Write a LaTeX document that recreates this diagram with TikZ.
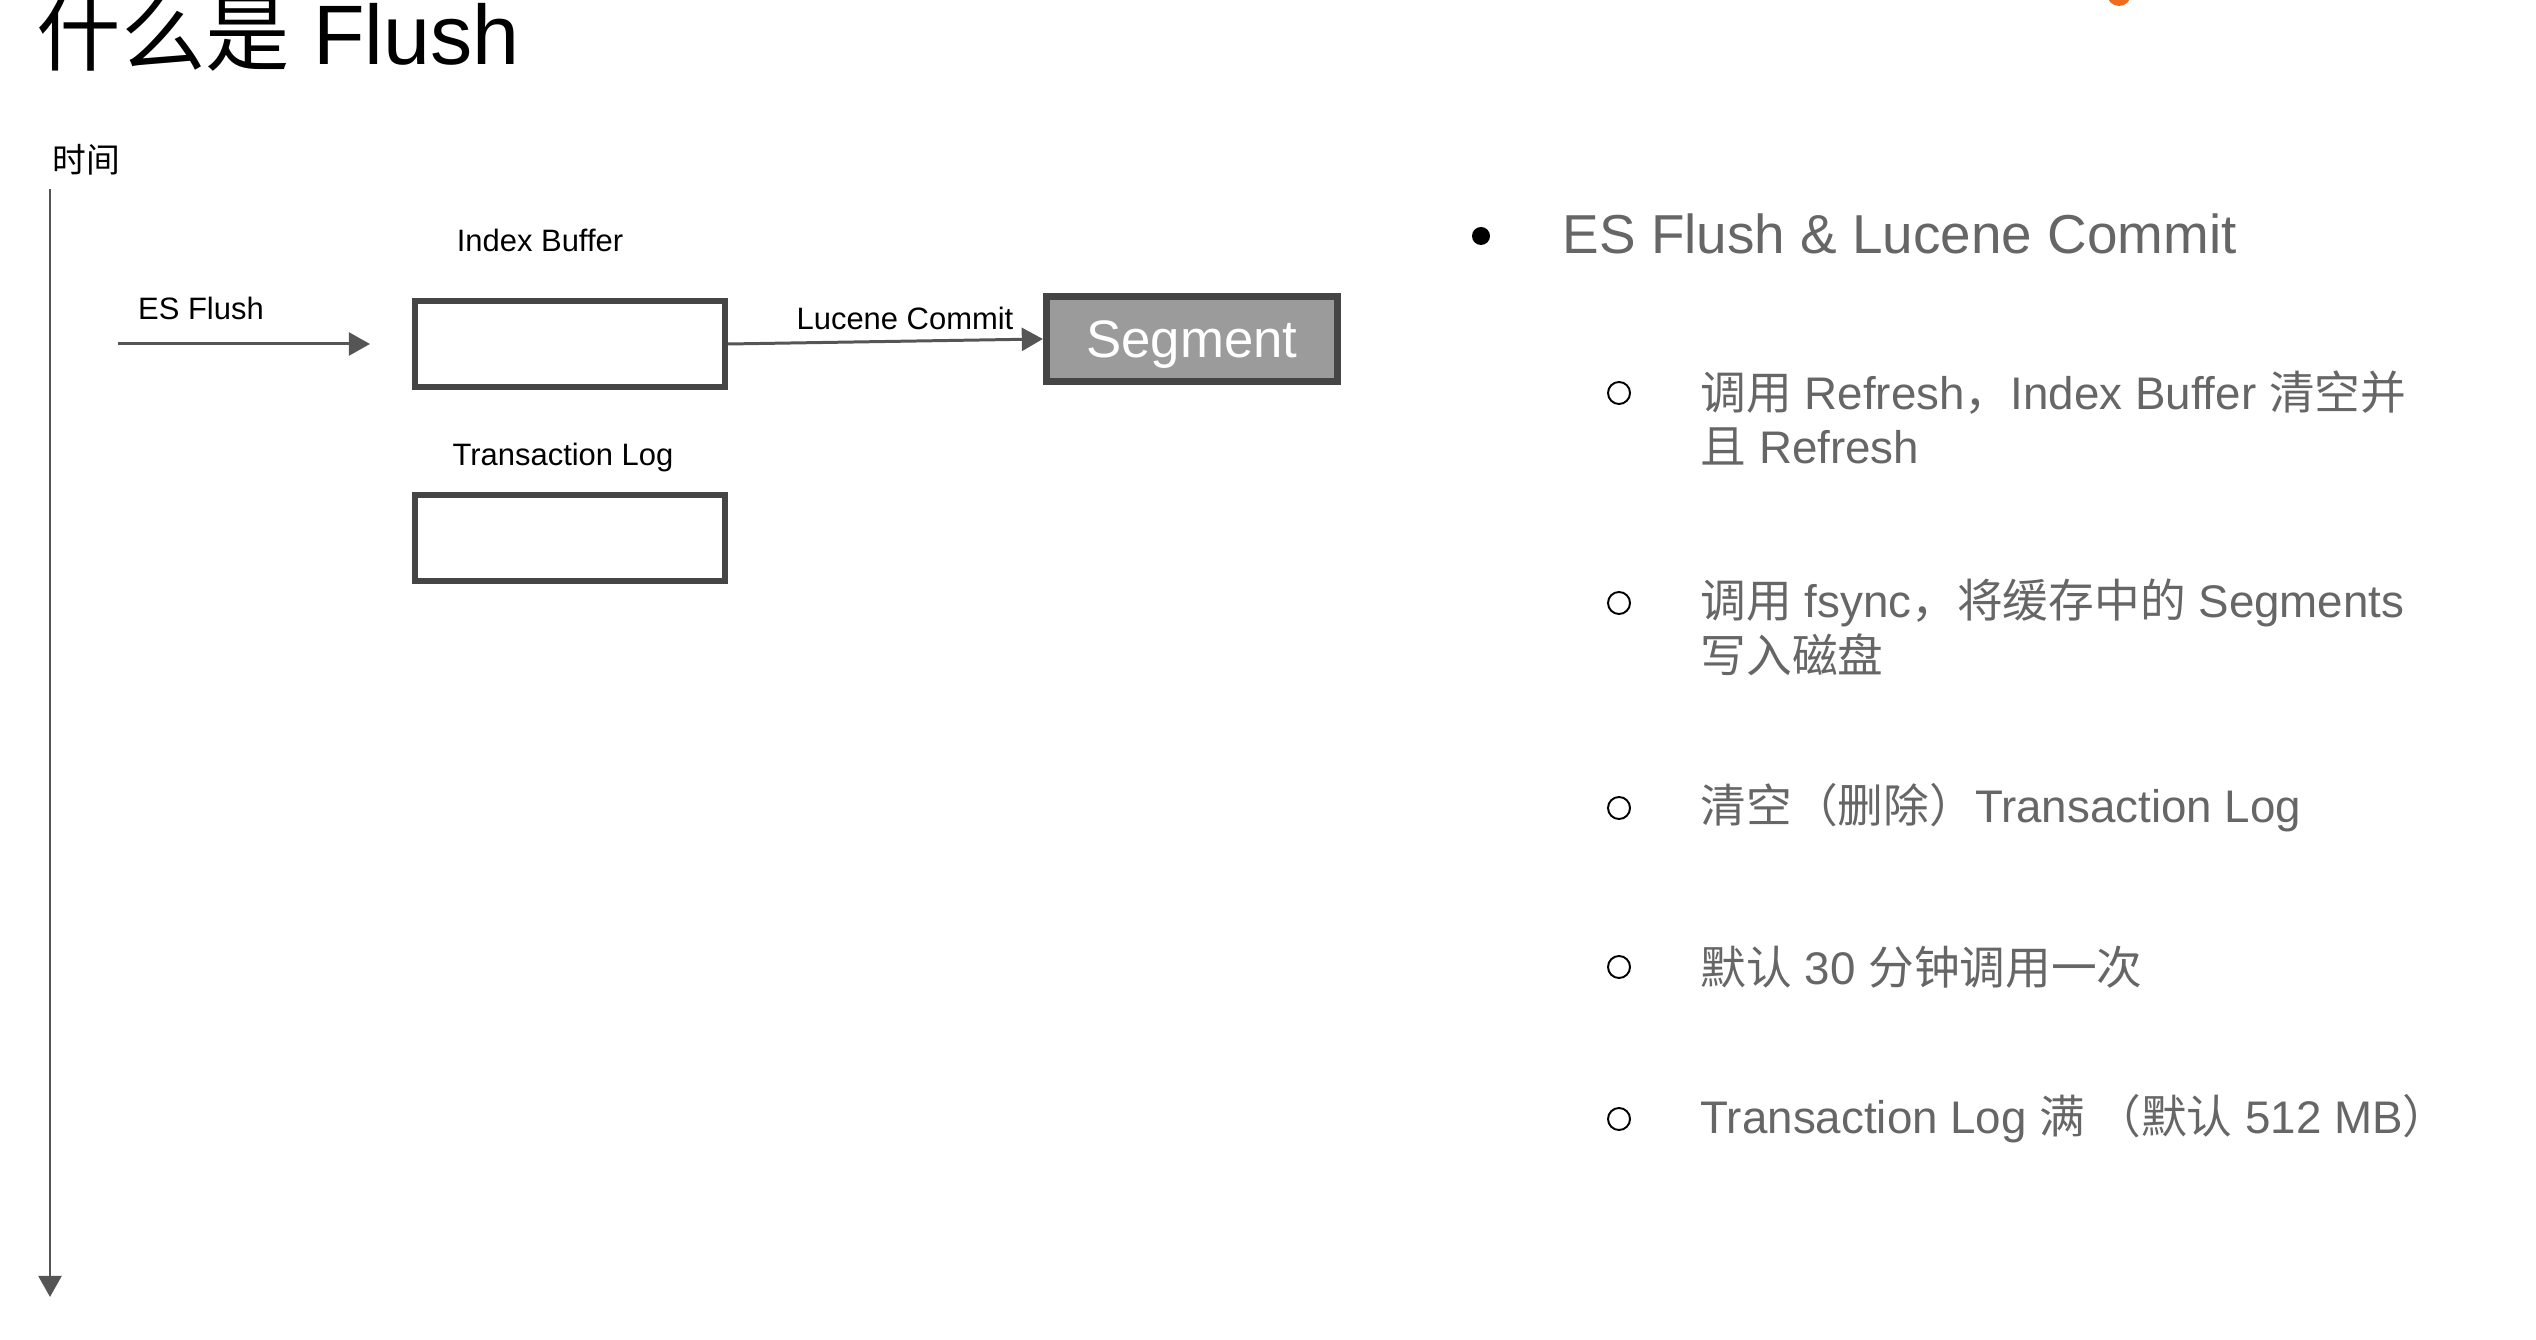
\documentclass[tikz,border=0pt]{standalone}
\usepackage{fontspec}
\setmainfont{Liberation Sans}
\newfontfamily\cjk{Noto Sans CJK SC}
\newcommand\zh[1]{{\cjk #1}}
\usetikzlibrary{arrows.meta}
\definecolor{boxgray}{HTML}{454545}
\definecolor{linegray}{HTML}{555555}
\definecolor{seggray}{HTML}{9B9B9B}
\definecolor{txtgray}{HTML}{666666}
\definecolor{logoorange}{HTML}{F26B1D}

\begin{document}
\begin{tikzpicture}[x=0.01cm,y=-0.01cm,>={Triangle[length=6pt,width=6.5pt]}]
    \tikzstyle{box}=[draw=boxgray,line width=1.7pt,minimum width=3.1cm,minimum height=0.86cm,inner sep=0pt]
    \tikzstyle{lbl}=[font=\fontsize{8.8}{10}\selectfont,inner sep=0pt]
    \tikzstyle{flow}=[draw=linegray,line width=0.85pt,->]
    \tikzstyle{item}=[anchor=west,text=txtgray,font=\fontsize{13}{15}\selectfont,inner sep=0pt]
    \tikzstyle{ring}=[circle,draw=black,line width=0.55pt,minimum size=0.22cm,inner sep=0pt]
    \useasboundingbox (0,0) rectangle (2536,1340);
    \fill[logoorange] (2119,-6) circle[radius=0.12cm];
    \node[anchor=base west,font=\fontsize{24}{28}\selectfont,inner sep=0pt] (title) at (36,65) {\zh{什么是} Flush};
    \node[font=\fontsize{9.6}{11}\selectfont,inner sep=0pt] (timelbl) at (86,160) {\zh{时间}};
    \coordinate (axtop) at (50,189);
    \coordinate (axbot) at (50,1297);
    \draw[flow] (axtop) -- (axbot);
    \node[lbl] (ibuflbl) at (540,240) {Index Buffer};
    \node[box] (ibuf) at (570,344) {};
    \node[lbl] (tloglbl) at (563,458) {Transaction Log};
    \node[box] (tlog) at (570,538) {};
    \node[box,fill=seggray,line width=2pt,minimum width=2.91cm,minimum height=0.85cm,text=white,text depth=0pt,font=\fontsize{15}{18}\selectfont] (seg) at (1192,339) {Segment};
    \node[lbl] (flushlbl) at (201,308) {ES Flush};
    \coordinate (flushstart) at (118,344);
    \coordinate (flushend) at (370,344);
    \draw[flow] (flushstart) -- (flushend);
    \node[lbl] (commitlbl) at (905,318) {Lucene Commit};
    \draw[flow] (ibuf.east) -- (seg.west);
    \node[circle,fill=black,minimum size=0.18cm,inner sep=0pt] (dot) at (1481,236) {};
    \node[anchor=west,text=txtgray,font=\fontsize{15.6}{18}\selectfont,inner sep=0pt] (head) at (1562,234) {ES Flush \& Lucene Commit};
    \node[ring] (ring1) at (1619,393) {};
    \node[item] (item1a) at (1700,393) {\zh{调用} Refresh\zh{，}Index Buffer \zh{清空并}};
    \node[item] (item1b) at (1700,446) {\zh{且} Refresh};
    \node[ring] (ring2) at (1619,603) {};
    \node[item] (item2a) at (1700,603) {\zh{调用} fsync\zh{，将缓存中的} Segments};
    \node[item] (item2b) at (1700,655) {\zh{写入磁盘}};
    \node[ring] (ring3) at (1619,808) {};
    \node[item] (item3) at (1700,808) {\zh{清空（删除）}Transaction Log};
    \node[ring] (ring4) at (1619,967) {};
    \node[item] (item4) at (1700,967) {\zh{默认} 30 \zh{分钟调用一次}};
    \node[ring] (ring5) at (1619,1119) {};
    \node[item] (item5) at (1700,1119) {Transaction Log \zh{满 （默认} 512 MB\zh{）}};
\end{tikzpicture}
\end{document}
